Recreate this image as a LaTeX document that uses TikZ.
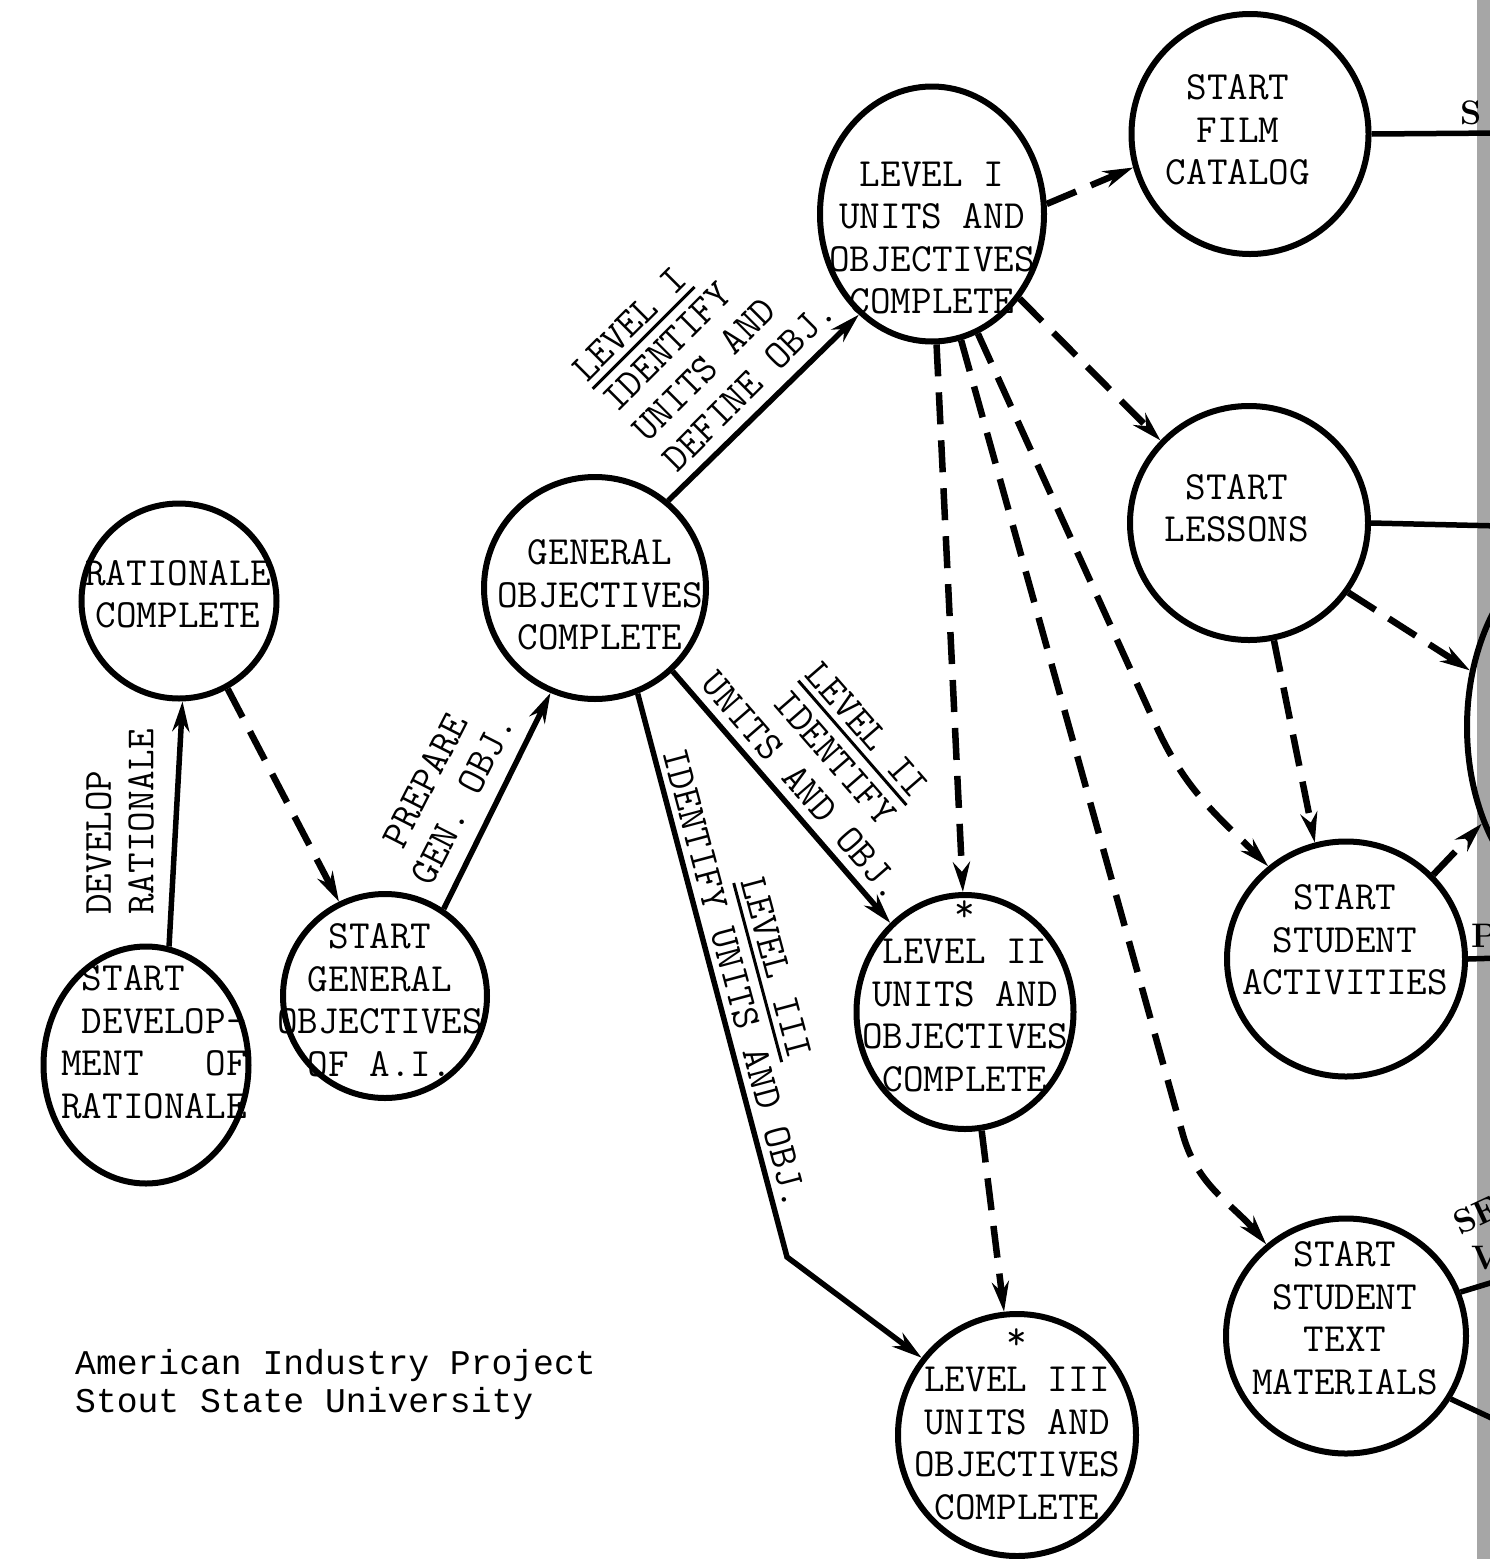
\documentclass[tikz,border=0pt]{standalone}
\usepackage{fontspec}
\newfontfamily\footfont{Liberation Mono}
\usetikzlibrary{arrows.meta,shapes.geometric}
\newcommand\myul[1]{\setbox0\hbox{#1}\rlap{\rule[-9pt]{\wd0}{3pt}}\box0}
\begin{document}
\begin{tikzpicture}[x=1pt,y=-1pt,
  bubble/.style={draw, ellipse, line width=6pt, inner sep=0pt},
  lab/.style={font=\ttfamily\fontsize{40}{42.5}\selectfont, align=center, inner sep=0pt},
  frag/.style={anchor=west, inner sep=0pt, font=\rmfamily\bfseries\fontsize{34}{34}\selectfont},
  solidarr/.style={line width=5.5pt, -{Stealth[length=30pt,width=17pt]}},
  dasharr/.style={line width=6.5pt, dash pattern=on 32pt off 16pt, -{Stealth[length=30pt,width=17pt]}},
  edgeline/.style={line width=5.5pt}]
\useasboundingbox (0,0) rectangle (1490,1559);
\fill[white] (0,0) rectangle (1490,1559);
% page edge band
\fill[black!35] (1477,0) rectangle (1490,1559);

% circles
\node[bubble, minimum width=195pt, minimum height=195pt] (ratc) at (179,601) {};
\node[bubble, minimum width=205pt, minimum height=237pt] (devr) at (146,1065) {};
\node[bubble, minimum width=204pt, minimum height=204pt] (sgo) at (385,996) {};
\node[bubble, minimum width=222pt, minimum height=222pt] (gobj) at (595,588) {};
\node[bubble, minimum width=224pt, minimum height=255pt] (lvlI) at (932,214) {};
\node[bubble, minimum width=237pt, minimum height=240pt] (film) at (1250,134) {};
\node[bubble, minimum width=238pt, minimum height=234pt] (lessons) at (1249,523) {};
\node[bubble, minimum width=238pt, minimum height=235pt] (act) at (1346,959) {};
\node[bubble, minimum width=240pt, minimum height=235pt] (textmat) at (1346,1336) {};
\node[bubble, minimum width=217pt, minimum height=234pt] (lvlII) at (965,1012) {};
\node[bubble, minimum width=238pt, minimum height=242pt] (lvlIII) at (1017,1435) {};
\node[bubble, minimum width=260pt, minimum height=380pt] (rc) at (1597,727) {};

% circle texts
\node[lab] (ratc-t) at (178,594) {RATIONALE\\COMPLETE};
\node[lab, align=left] (devr-t) at (154,1042) {\hphantom{X}START\\\hphantom{X}DEVELOP-\\MENT\hphantom{XXX}OF\\RATIONALE};
\node[lab] (sgo-t) at (380,1000) {START\\GENERAL\\OBJECTIVES\\OF A.I.};
\node[lab] (gobj-t) at (600,595) {GENERAL\\OBJECTIVES\\COMPLETE};
\node[lab] (lvlI-t) at (932,238) {LEVEL I\\UNITS AND\\OBJECTIVES\\COMPLETE};
\node[lab] (film-t) at (1238,130) {START\\FILM\\CATALOG};
\node[lab] (lessons-t) at (1237,508) {START\\LESSONS};
\node[lab] (act-t) at (1345,940) {START\\STUDENT\\ACTIVITIES};
\node[lab] (textmat-t) at (1345,1318) {START\\STUDENT\\TEXT\\MATERIALS};
\node[lab] (lvlII-t) at (965,996) {*\\LEVEL II\\UNITS AND\\OBJECTIVES\\COMPLETE};
\node[lab] (lvlIII-t) at (1017,1424) {*\\LEVEL III\\UNITS AND\\OBJECTIVES\\COMPLETE};

% connectors
\draw[solidarr] (devr.79) -- (ratc.-88);
\draw[dasharr] (ratc.-61) -- (sgo.116);
\draw[solidarr] (sgo.56) -- (gobj.-113);
\draw[solidarr] (gobj.50) -- (lvlI.-126);
\draw[solidarr] (gobj.-47) -- (lvlII.130);
\coordinate (b3) at (787,1257);
\draw[solidarr] (gobj.-68) -- (b3) -- (lvlIII.141);
\draw[dasharr] (lvlI.5) -- (film.-164);
\draw[dasharr] (lvlI.-44) -- (lessons.137);
\draw[dasharr] (lvlI.-88) -- (lvlII.91);
\coordinate (k1) at (1158,730);
\draw[dasharr] (lvlI.-69) -- (k1) to[out=-65,in=135] (act.130);
\coordinate (k2) at (1183,1135);
\draw[dasharr] (lvlI.-77) -- (k2) to[out=-74,in=130] (textmat.131);
\draw[dasharr] (lessons.-78) -- (act.105);
\draw[dasharr] (lessons.-35) -- (rc.156);
\draw[dasharr] (act.44) -- (rc.-140);
\draw[dasharr] (lvlII.-82) -- (lvlIII.96);

% lines leaving the page
\coordinate (o1) at (1500,133);
\coordinate (o2) at (1500,526);
\coordinate (o3) at (1500,958);
\coordinate (o4) at (1500,1280);
\coordinate (o5) at (1500,1422);
\draw[edgeline] (film.east) -- (o1);
\draw[edgeline] (lessons.east) -- (o2);
\draw[edgeline] (act.east) -- (o3);
\draw[edgeline] (textmat.21) -- (o4);
\draw[edgeline] (textmat.-31) -- (o5);

% connector labels
\node[lab, rotate=90, align=left] (l1) at (120,822) {DEVELOP\\RATIONALE};
\node[lab, rotate=63] (l2) at (444,790) {PREPARE\\GEN. OBJ.};
\node[lab, rotate=45, align=left] (l3) at (704,340) {\myul{LEVEL I}\\IDENTIFY\\UNITS AND\\DEFINE OBJ.};
\node[lab, rotate=-49] (l4) at (835,758) {\myul{LEVEL II}\\IDENTIFY\\UNITS AND OBJ.};
\node[lab, rotate=-75] (l5) at (756,973) {\myul{LEVEL III}\\IDENTIFY UNITS AND OBJ.};

% fragments at the page edge
\node[frag] (fS) at (1460,113) {S};
\node[frag] (fP) at (1471,936) {P};
\node[frag, rotate=25] (fSE) at (1455,1225) {SE};
\node[frag] (fV) at (1471,1258) {V};

% footer
\node[anchor=west, inner sep=0pt, align=left, font=\footfont\fontsize{34.7}{38}\selectfont] (foot) at (75,1385) {American Industry Project\\Stout State University};
\end{tikzpicture}
\end{document}
